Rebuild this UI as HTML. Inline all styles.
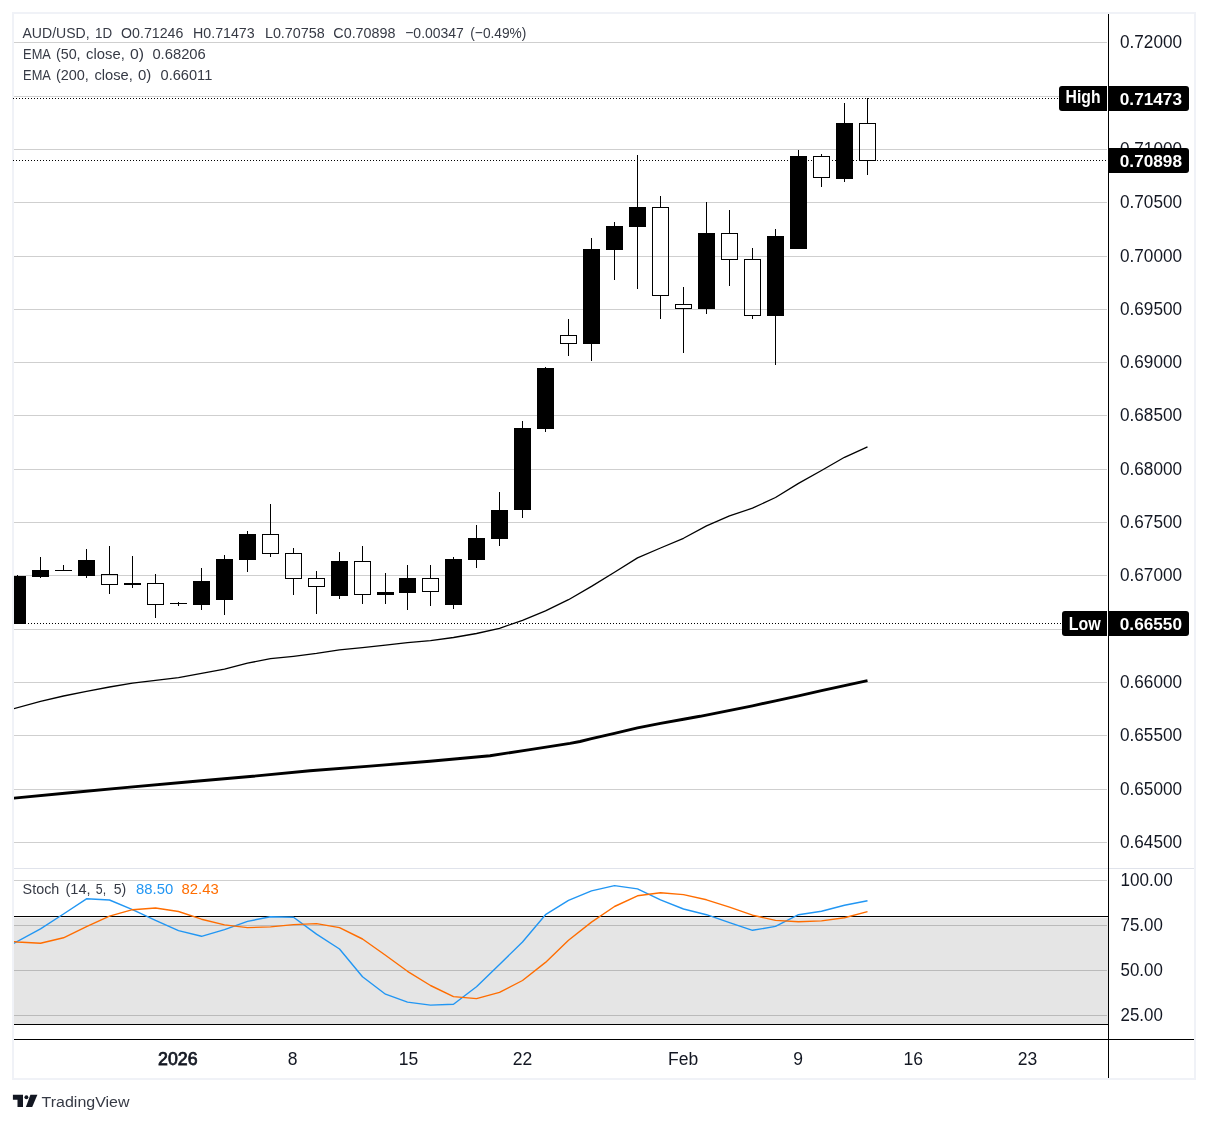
<!DOCTYPE html>
<html><head><meta charset="utf-8"><title>AUD/USD 1D</title>
<style>html,body{margin:0;padding:0;background:#fff}body{width:1208px;height:1123px;overflow:hidden}svg{display:block}text{font-family:"Liberation Sans",Arial,sans-serif}</style></head><body>
<svg width="1208" height="1123" viewBox="0 0 1208 1123">
<rect width="1208" height="1123" fill="#fff"/>
<rect x="13" y="13" width="1182" height="1066" fill="none" stroke="#f0f2f7" stroke-width="2"/>
<defs><clipPath id="cp"><rect x="14" y="14" width="1094" height="855"/></clipPath><clipPath id="cs"><rect x="14" y="869" width="1094" height="170"/></clipPath></defs>
<rect x="14" y="917" width="1094" height="107" fill="#f4f4f4"/><rect x="14" y="918" width="1094" height="106" fill="#e5e5e5"/>
<line x1="13" y1="98.5" x2="1059" y2="98.5" stroke="#000" stroke-width="1" stroke-dasharray="1 2" shape-rendering="crispEdges"/>
<line x1="13" y1="160.5" x2="1108" y2="160.5" stroke="#000" stroke-width="1" stroke-dasharray="1 2" shape-rendering="crispEdges"/>
<line x1="16" y1="623.5" x2="1062" y2="623.5" stroke="#000" stroke-width="1" stroke-dasharray="1 2" shape-rendering="crispEdges"/>
<g clip-path="url(#cp)" shape-rendering="crispEdges">
<rect x="17.0" y="575" width="1" height="49" fill="#000"/>
<rect x="9.0" y="576" width="17" height="48" fill="#000"/>
<rect x="40.0" y="557" width="1" height="21" fill="#000"/>
<rect x="32.0" y="570" width="17" height="7" fill="#000"/>
<rect x="63.0" y="565" width="1" height="6" fill="#000"/>
<rect x="55.0" y="570" width="17" height="1" fill="#000"/>
<rect x="86.0" y="549" width="1" height="29" fill="#000"/>
<rect x="78.0" y="560" width="17" height="16" fill="#000"/>
<rect x="109.0" y="546" width="1" height="48" fill="#000"/>
<rect x="101.5" y="574.5" width="16" height="10" fill="#fff" stroke="#000" stroke-width="1"/>
<rect x="132.0" y="556" width="1" height="32" fill="#000"/>
<rect x="124.0" y="583" width="17" height="2" fill="#000"/>
<rect x="155.0" y="574" width="1" height="44" fill="#000"/>
<rect x="147.5" y="583.5" width="16" height="21" fill="#fff" stroke="#000" stroke-width="1"/>
<rect x="178.0" y="602" width="1" height="4" fill="#000"/>
<rect x="170.0" y="603" width="17" height="1" fill="#000"/>
<rect x="201.0" y="568" width="1" height="42" fill="#000"/>
<rect x="193.0" y="581" width="17" height="24" fill="#000"/>
<rect x="224.0" y="555" width="1" height="60" fill="#000"/>
<rect x="216.0" y="559" width="17" height="41" fill="#000"/>
<rect x="247.0" y="531" width="1" height="41" fill="#000"/>
<rect x="239.0" y="534" width="17" height="26" fill="#000"/>
<rect x="270.0" y="504" width="1" height="53" fill="#000"/>
<rect x="262.5" y="534.5" width="16" height="19" fill="#fff" stroke="#000" stroke-width="1"/>
<rect x="293.0" y="548" width="1" height="47" fill="#000"/>
<rect x="285.5" y="553.5" width="16" height="25" fill="#fff" stroke="#000" stroke-width="1"/>
<rect x="316.0" y="571" width="1" height="43" fill="#000"/>
<rect x="308.5" y="578.5" width="16" height="8" fill="#fff" stroke="#000" stroke-width="1"/>
<rect x="339.0" y="552" width="1" height="47" fill="#000"/>
<rect x="331.0" y="561" width="17" height="35" fill="#000"/>
<rect x="362.0" y="546" width="1" height="58" fill="#000"/>
<rect x="354.5" y="561.5" width="16" height="33" fill="#fff" stroke="#000" stroke-width="1"/>
<rect x="385.0" y="573" width="1" height="31" fill="#000"/>
<rect x="377.0" y="592" width="17" height="3" fill="#000"/>
<rect x="407.0" y="565" width="1" height="45" fill="#000"/>
<rect x="399.0" y="578" width="17" height="15" fill="#000"/>
<rect x="430.0" y="565" width="1" height="41" fill="#000"/>
<rect x="422.5" y="578.5" width="16" height="13" fill="#fff" stroke="#000" stroke-width="1"/>
<rect x="453.0" y="557" width="1" height="52" fill="#000"/>
<rect x="445.0" y="559" width="17" height="46" fill="#000"/>
<rect x="476.0" y="525" width="1" height="43" fill="#000"/>
<rect x="468.0" y="538" width="17" height="22" fill="#000"/>
<rect x="499.0" y="492" width="1" height="54" fill="#000"/>
<rect x="491.0" y="510" width="17" height="29" fill="#000"/>
<rect x="522.0" y="421" width="1" height="97" fill="#000"/>
<rect x="514.0" y="428" width="17" height="82" fill="#000"/>
<rect x="545.0" y="367" width="1" height="65" fill="#000"/>
<rect x="537.0" y="368" width="17" height="61" fill="#000"/>
<rect x="568.0" y="319" width="1" height="37" fill="#000"/>
<rect x="560.5" y="335.5" width="16" height="8" fill="#fff" stroke="#000" stroke-width="1"/>
<rect x="591.0" y="238" width="1" height="123" fill="#000"/>
<rect x="583.0" y="249" width="17" height="95" fill="#000"/>
<rect x="614.0" y="222" width="1" height="58" fill="#000"/>
<rect x="606.0" y="226" width="17" height="24" fill="#000"/>
<rect x="637.0" y="155" width="1" height="134" fill="#000"/>
<rect x="629.0" y="207" width="17" height="20" fill="#000"/>
<rect x="660.0" y="196" width="1" height="123" fill="#000"/>
<rect x="652.5" y="207.5" width="16" height="88" fill="#fff" stroke="#000" stroke-width="1"/>
<rect x="683.0" y="287" width="1" height="66" fill="#000"/>
<rect x="675.5" y="304.5" width="16" height="4" fill="#fff" stroke="#000" stroke-width="1"/>
<rect x="706.0" y="202" width="1" height="112" fill="#000"/>
<rect x="698.0" y="233" width="17" height="76" fill="#000"/>
<rect x="729.0" y="210" width="1" height="76" fill="#000"/>
<rect x="721.5" y="233.5" width="16" height="26" fill="#fff" stroke="#000" stroke-width="1"/>
<rect x="752.0" y="248" width="1" height="71" fill="#000"/>
<rect x="744.5" y="259.5" width="16" height="56" fill="#fff" stroke="#000" stroke-width="1"/>
<rect x="775.0" y="229" width="1" height="136" fill="#000"/>
<rect x="767.0" y="236" width="17" height="80" fill="#000"/>
<rect x="798.0" y="150" width="1" height="99" fill="#000"/>
<rect x="790.0" y="156" width="17" height="93" fill="#000"/>
<rect x="821.0" y="154" width="1" height="33" fill="#000"/>
<rect x="813.5" y="156.5" width="16" height="21" fill="#fff" stroke="#000" stroke-width="1"/>
<rect x="844.0" y="103" width="1" height="79" fill="#000"/>
<rect x="836.0" y="123" width="17" height="56" fill="#000"/>
<rect x="867.0" y="98" width="1" height="77" fill="#000"/>
<rect x="859.5" y="123.5" width="16" height="37" fill="#fff" stroke="#000" stroke-width="1"/>
</g>
<polyline clip-path="url(#cp)" points="13.0,708.9 40.5,701.4 63.5,696.0 86.5,691.3 109.5,687.0 132.5,683.1 155.5,680.3 178.5,677.6 201.5,673.4 224.5,669.2 247.5,663.2 270.5,658.7 293.5,656.3 316.5,653.4 339.5,649.9 362.5,647.7 385.5,645.2 407.5,642.7 430.5,640.7 453.5,637.5 476.5,633.5 499.5,628.3 522.5,620.3 545.5,610.9 568.5,599.7 591.5,586.4 614.5,572.3 637.5,557.9 660.5,548.0 683.5,538.3 706.5,525.9 729.5,515.9 752.5,508.2 775.5,497.5 798.5,483.4 821.5,470.5 844.5,457.3 867.5,446.8" fill="none" stroke="#000" stroke-width="1.3" stroke-linejoin="round"/>
<polyline clip-path="url(#cp)" points="13.0,798.2 70.0,792.7 130.0,787.1 190.0,781.7 250.0,776.5 310.0,770.7 370.0,766.1 430.0,761.3 490.0,755.7 530.0,749.6 570.0,743.4 580.0,741.5 591.5,738.7 614.5,733.3 637.5,727.8 660.5,723.3 683.5,719.2 700.0,716.3 730.0,710.3 752.5,705.8 775.5,700.9 798.5,695.9 821.5,690.6 844.5,685.6 867.5,680.7" fill="none" stroke="#000" stroke-width="2.9" stroke-linejoin="round"/>
<g shape-rendering="crispEdges" fill="#000" fill-opacity="0.19">
<rect x="13.5" y="42" width="1093.5" height="1"/>
<rect x="13.5" y="96" width="1093.5" height="1"/>
<rect x="13.5" y="149" width="1093.5" height="1"/>
<rect x="13.5" y="202" width="1093.5" height="1"/>
<rect x="13.5" y="256" width="1093.5" height="1"/>
<rect x="13.5" y="309" width="1093.5" height="1"/>
<rect x="13.5" y="362" width="1093.5" height="1"/>
<rect x="13.5" y="415" width="1093.5" height="1"/>
<rect x="13.5" y="469" width="1093.5" height="1"/>
<rect x="13.5" y="522" width="1093.5" height="1"/>
<rect x="13.5" y="575" width="1093.5" height="1"/>
<rect x="13.5" y="629" width="1093.5" height="1"/>
<rect x="13.5" y="682" width="1093.5" height="1"/>
<rect x="13.5" y="735" width="1093.5" height="1"/>
<rect x="13.5" y="789" width="1093.5" height="1"/>
<rect x="13.5" y="842" width="1093.5" height="1"/>
</g>
<g shape-rendering="crispEdges">
<rect x="14" y="880" width="1093" height="1" fill="#000" fill-opacity="0.19"/>
<rect x="14" y="925" width="1093" height="1" fill="#000" fill-opacity="0.19"/>
<rect x="14" y="970" width="1093" height="1" fill="#000" fill-opacity="0.19"/>
<rect x="14" y="1015" width="1093" height="1" fill="#000" fill-opacity="0.19"/>
<rect x="14" y="916" width="1094" height="1" fill="#000"/>
<rect x="14" y="1024" width="1094" height="1" fill="#000"/>
<rect x="14" y="868" width="1180" height="1" fill="#e0e3eb"/>
<rect x="1108" y="14" width="1" height="1064" fill="#000"/>
<rect x="14" y="1039" width="1180" height="1" fill="#000"/>
</g>
<polyline clip-path="url(#cs)" points="13.0,943.8 40.5,928.9 63.5,914.0 86.5,898.8 109.5,900.0 132.5,909.7 155.5,920.4 178.5,930.6 201.5,936.3 224.5,929.6 247.5,921.4 270.5,916.7 293.5,917.2 316.5,934.1 339.5,949.0 362.5,976.8 385.5,994.2 407.5,1002.1 430.5,1005.1 453.5,1004.3 476.5,986.7 499.5,964.4 522.5,942.0 545.5,914.7 568.5,900.3 591.5,890.9 614.5,885.6 637.5,888.9 660.5,899.8 683.5,909.0 706.5,914.7 729.5,922.6 752.5,930.3 775.5,926.4 798.5,914.7 821.5,911.2 844.5,905.3 867.5,900.7" fill="none" stroke="#2196f3" stroke-width="1.4" stroke-linejoin="round"/>
<polyline clip-path="url(#cs)" points="13.0,941.5 17.5,942.0 40.5,943.3 63.5,937.8 86.5,926.6 109.5,916.2 132.5,909.7 155.5,908.0 178.5,911.5 201.5,919.2 224.5,924.9 247.5,927.6 270.5,926.9 293.5,924.6 316.5,923.6 339.5,927.6 362.5,939.0 385.5,955.2 407.5,971.3 430.5,985.5 453.5,996.6 476.5,998.6 499.5,992.4 522.5,980.5 545.5,962.4 568.5,940.3 591.5,922.1 614.5,906.5 637.5,895.8 660.5,892.8 683.5,894.6 706.5,899.8 729.5,907.2 752.5,915.2 775.5,920.4 798.5,921.7 821.5,920.9 844.5,917.7 867.5,911.6" fill="none" stroke="#ff6d00" stroke-width="1.4" stroke-linejoin="round"/>
<text x="1120.0" y="48.1" font-size="17.5" textLength="62.0" lengthAdjust="spacingAndGlyphs" fill="#131722">0.72000</text>
<text x="1120.0" y="155.1" font-size="17.5" textLength="62.0" lengthAdjust="spacingAndGlyphs" fill="#131722">0.71000</text>
<text x="1120.0" y="208.1" font-size="17.5" textLength="62.0" lengthAdjust="spacingAndGlyphs" fill="#131722">0.70500</text>
<text x="1120.0" y="262.1" font-size="17.5" textLength="62.0" lengthAdjust="spacingAndGlyphs" fill="#131722">0.70000</text>
<text x="1120.0" y="315.1" font-size="17.5" textLength="62.0" lengthAdjust="spacingAndGlyphs" fill="#131722">0.69500</text>
<text x="1120.0" y="368.1" font-size="17.5" textLength="62.0" lengthAdjust="spacingAndGlyphs" fill="#131722">0.69000</text>
<text x="1120.0" y="421.1" font-size="17.5" textLength="62.0" lengthAdjust="spacingAndGlyphs" fill="#131722">0.68500</text>
<text x="1120.0" y="475.1" font-size="17.5" textLength="62.0" lengthAdjust="spacingAndGlyphs" fill="#131722">0.68000</text>
<text x="1120.0" y="528.1" font-size="17.5" textLength="62.0" lengthAdjust="spacingAndGlyphs" fill="#131722">0.67500</text>
<text x="1120.0" y="581.1" font-size="17.5" textLength="62.0" lengthAdjust="spacingAndGlyphs" fill="#131722">0.67000</text>
<text x="1120.0" y="688.1" font-size="17.5" textLength="62.0" lengthAdjust="spacingAndGlyphs" fill="#131722">0.66000</text>
<text x="1120.0" y="741.1" font-size="17.5" textLength="62.0" lengthAdjust="spacingAndGlyphs" fill="#131722">0.65500</text>
<text x="1120.0" y="795.1" font-size="17.5" textLength="62.0" lengthAdjust="spacingAndGlyphs" fill="#131722">0.65000</text>
<text x="1120.0" y="848.1" font-size="17.5" textLength="62.0" lengthAdjust="spacingAndGlyphs" fill="#131722">0.64500</text>
<text x="1120.6" y="886.1" font-size="17.5" textLength="52.2" lengthAdjust="spacingAndGlyphs" fill="#131722">100.00</text>
<text x="1120.6" y="931.1" font-size="17.5" textLength="42.2" lengthAdjust="spacingAndGlyphs" fill="#131722">75.00</text>
<text x="1120.6" y="976.1" font-size="17.5" textLength="42.2" lengthAdjust="spacingAndGlyphs" fill="#131722">50.00</text>
<text x="1120.6" y="1021.1" font-size="17.5" textLength="42.2" lengthAdjust="spacingAndGlyphs" fill="#131722">25.00</text>
<path d="M1062,86.0H1107V111.0H1062a3,3 0 0 1 -3,-3V89.0a3,3 0 0 1 3,-3z" fill="#000"/>
<text x="1065.6" y="103.1" font-size="18.3" textLength="35" lengthAdjust="spacingAndGlyphs" font-weight="bold" fill="#fff">High</text>
<path d="M1109,86.0H1186a3,3 0 0 1 3,3V108.0a3,3 0 0 1 -3,3H1109z" fill="#000"/>
<text x="1119.8" y="105.0" font-size="17.2" textLength="62.2" lengthAdjust="spacingAndGlyphs" font-weight="bold" fill="#fff">0.71473</text>
<path d="M1109,148.0H1186a3,3 0 0 1 3,3V170.0a3,3 0 0 1 -3,3H1109z" fill="#000"/>
<text x="1119.8" y="167.0" font-size="17.2" textLength="62.2" lengthAdjust="spacingAndGlyphs" font-weight="bold" fill="#fff">0.70898</text>
<path d="M1065,611.0H1107V636.0H1065a3,3 0 0 1 -3,-3V614.0a3,3 0 0 1 3,-3z" fill="#000"/>
<text x="1068.8" y="629.8" font-size="18.3" textLength="32" lengthAdjust="spacingAndGlyphs" font-weight="bold" fill="#fff">Low</text>
<path d="M1109,611.0H1186a3,3 0 0 1 3,3V633.0a3,3 0 0 1 -3,3H1109z" fill="#000"/>
<text x="1119.8" y="630.0" font-size="17.2" textLength="62.2" lengthAdjust="spacingAndGlyphs" font-weight="bold" fill="#fff">0.66550</text>
<text x="177.8" y="1065" font-size="17.5" textLength="39.5" lengthAdjust="spacingAndGlyphs" text-anchor="middle" fill="#131722" stroke="#131722" stroke-width="0.75">2026</text>
<text x="292.6" y="1065" font-size="17.5" text-anchor="middle" fill="#131722">8</text>
<text x="408.4" y="1065" font-size="17.5" text-anchor="middle" fill="#131722">15</text>
<text x="522.5" y="1065" font-size="17.5" text-anchor="middle" fill="#131722">22</text>
<text x="683.2" y="1065" font-size="17.5" text-anchor="middle" fill="#131722">Feb</text>
<text x="798.2" y="1065" font-size="17.5" text-anchor="middle" fill="#131722">9</text>
<text x="913.3" y="1065" font-size="17.5" text-anchor="middle" fill="#131722">16</text>
<text x="1027.4" y="1065" font-size="17.5" text-anchor="middle" fill="#131722">23</text>
<text x="22.5" y="38.0" font-size="15.5" textLength="67.1" lengthAdjust="spacingAndGlyphs" fill="#363a45">AUD/USD,</text>
<text x="95.0" y="38.0" font-size="15.5" textLength="17.1" lengthAdjust="spacingAndGlyphs" fill="#363a45">1D</text>
<text x="121.1" y="38.0" font-size="15.5" textLength="62.2" lengthAdjust="spacingAndGlyphs" fill="#363a45">O0.71246</text>
<text x="193.0" y="38.0" font-size="15.5" textLength="61.7" lengthAdjust="spacingAndGlyphs" fill="#363a45">H0.71473</text>
<text x="264.9" y="38.0" font-size="15.5" textLength="59.9" lengthAdjust="spacingAndGlyphs" fill="#363a45">L0.70758</text>
<text x="333.3" y="38.0" font-size="15.5" textLength="62.2" lengthAdjust="spacingAndGlyphs" fill="#363a45">C0.70898</text>
<text x="405.2" y="38.0" font-size="15.5" textLength="58.7" lengthAdjust="spacingAndGlyphs" fill="#363a45">−0.00347</text>
<text x="470.3" y="38.0" font-size="15.5" textLength="56.1" lengthAdjust="spacingAndGlyphs" fill="#363a45">(−0.49%)</text>
<text x="23.1" y="58.8" font-size="15.5" textLength="27.8" lengthAdjust="spacingAndGlyphs" fill="#363a45">EMA</text>
<text x="55.9" y="58.8" font-size="15.5" textLength="24.7" lengthAdjust="spacingAndGlyphs" fill="#363a45">(50,</text>
<text x="86.1" y="58.8" font-size="15.5" textLength="38.7" lengthAdjust="spacingAndGlyphs" fill="#363a45">close,</text>
<text x="129.9" y="58.8" font-size="15.5" textLength="14.0" lengthAdjust="spacingAndGlyphs" fill="#363a45">0)</text>
<text x="152.4" y="58.8" font-size="15.5" textLength="53.4" lengthAdjust="spacingAndGlyphs" fill="#363a45">0.68206</text>
<text x="23.1" y="79.5" font-size="15.5" textLength="27.8" lengthAdjust="spacingAndGlyphs" fill="#363a45">EMA</text>
<text x="55.9" y="79.5" font-size="15.5" textLength="33.0" lengthAdjust="spacingAndGlyphs" fill="#363a45">(200,</text>
<text x="94.4" y="79.5" font-size="15.5" textLength="38.4" lengthAdjust="spacingAndGlyphs" fill="#363a45">close,</text>
<text x="138.0" y="79.5" font-size="15.5" textLength="13.3" lengthAdjust="spacingAndGlyphs" fill="#363a45">0)</text>
<text x="160.5" y="79.5" font-size="15.5" textLength="51.8" lengthAdjust="spacingAndGlyphs" fill="#363a45">0.66011</text>
<text x="22.6" y="893.9" font-size="15.5" textLength="36.7" lengthAdjust="spacingAndGlyphs" fill="#363a45">Stoch</text>
<text x="65.4" y="893.9" font-size="15.5" textLength="25.2" lengthAdjust="spacingAndGlyphs" fill="#363a45">(14,</text>
<text x="95.8" y="893.9" font-size="15.5" textLength="10.3" lengthAdjust="spacingAndGlyphs" fill="#363a45">5,</text>
<text x="113.7" y="893.9" font-size="15.5" textLength="12.5" lengthAdjust="spacingAndGlyphs" fill="#363a45">5)</text>
<text x="136.1" y="893.9" font-size="15.5" textLength="37.1" lengthAdjust="spacingAndGlyphs" fill="#2196f3">88.50</text>
<text x="181.6" y="893.9" font-size="15.5" textLength="37.1" lengthAdjust="spacingAndGlyphs" fill="#ff6d00">82.43</text>
<g fill="#131722"><path d="M12.9,1094.8H23V1106.9H17.5V1099.8H12.9z"/><circle cx="26.4" cy="1097.25" r="1.95"/><path d="M30.4,1094.8H37.4L32.2,1106.9H25.9z"/></g>
<text x="41.6" y="1106.9" font-size="15.3" textLength="87.9" lengthAdjust="spacingAndGlyphs" fill="#363a45">TradingView</text>
</svg></body></html>
